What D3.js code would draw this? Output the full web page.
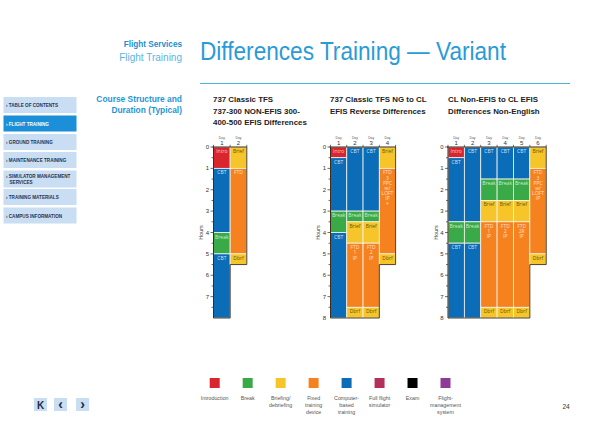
<!DOCTYPE html>
<html><head><meta charset="utf-8">
<script src="https://cdn.jsdelivr.net/npm/d3@7"></script>
<style>
html,body{margin:0;padding:0;background:#fff;}
svg{display:block;font-family:"Liberation Sans",Arial,sans-serif;}
</style></head>
<body>
<svg id="c" width="600" height="432"></svg>
<script>
// ---------- DATA ----------
const navItems = [["TABLE OF CONTENTS"],["FLIGHT TRAINING"],["GROUND TRAINING"],["MAINTENANCE TRAINING"],["SIMULATOR MANAGEMENT","SERVICES"],["TRAINING MATERIALS"],["CAMPUS INFORMATION"]];
const activeNav = "FLIGHT TRAINING";

const chart1Title = ["737 Classic TFS","737-300 NON-EFIS 300-","400-500 EFIS Differences"];
const chart1Days = ["1","2"];
const chart1HourTicks = [0,1,2,3,4,5,6,7];
const chart1Segments = [
  {day:"1",type:"intro",start:0,end:1,label:["Intro"]},
  {day:"1",type:"cbt",start:1,end:4,label:["CBT"]},
  {day:"1",type:"break",start:4,end:5,label:["Break"]},
  {day:"1",type:"cbt",start:5,end:8,label:["CBT"]},
  {day:"2",type:"brief",start:0,end:1,label:["Brief"]},
  {day:"2",type:"ftd",start:1,end:5,label:["FTD"]},
  {day:"2",type:"brief",start:5,end:5.5,label:["Dbrf"]}
];

const chart2Title = ["737 Classic TFS NG to CL","EFIS Reverse Differences"];
const chart2Days = ["1","2","3","4"];
const chart2HourTicks = [0,1,2,3,4,5,6,7,8];
const chart2Segments = [
  {day:"1",type:"intro",start:0,end:0.5,label:["Intro"]},
  {day:"1",type:"cbt",start:0.5,end:3,label:["CBT"]},
  {day:"1",type:"break",start:3,end:4,label:["Break"]},
  {day:"1",type:"cbt",start:4,end:8,label:["CBT"]},
  {day:"2",type:"cbt",start:0,end:3,label:["CBT"]},
  {day:"2",type:"break",start:3,end:3.5,label:["Break"]},
  {day:"2",type:"brief",start:3.5,end:4.5,label:["Brief"]},
  {day:"2",type:"ftd",start:4.5,end:7.5,label:["FTD","1","IP"]},
  {day:"2",type:"brief",start:7.5,end:8,label:["Dbrf"]},
  {day:"3",type:"cbt",start:0,end:3,label:["CBT"]},
  {day:"3",type:"break",start:3,end:3.5,label:["Break"]},
  {day:"3",type:"brief",start:3.5,end:4.5,label:["Brief"]},
  {day:"3",type:"ftd",start:4.5,end:7.5,label:["FTD","2","IP"]},
  {day:"3",type:"brief",start:7.5,end:8,label:["Dbrf"]},
  {day:"4",type:"brief",start:0,end:1,label:["Brief"]},
  {day:"4",type:"ftd",start:1,end:5,label:["FTD","3","PPC","w/","LOFT","IP","*"]},
  {day:"4",type:"brief",start:5,end:5.5,label:["Dbrf"]}
];

const chart3Title = ["CL Non-EFIS to CL EFIS","Differences Non-English"];
const chart3Days = ["1","2","3","4","5","6"];
const chart3HourTicks = [0,1,2,3,4,5,6,7,8];
const chart3Segments = [
  {day:"1",type:"intro",start:0,end:0.5,label:["Intro"]},
  {day:"1",type:"cbt",start:0.5,end:3.5,label:["CBT"]},
  {day:"1",type:"break",start:3.5,end:4.5,label:["Break"]},
  {day:"1",type:"cbt",start:4.5,end:8,label:["CBT"]},
  {day:"2",type:"cbt",start:0,end:3.5,label:["CBT"]},
  {day:"2",type:"break",start:3.5,end:4.5,label:["Break"]},
  {day:"2",type:"cbt",start:4.5,end:8,label:["CBT"]},
  {day:"3",type:"cbt",start:0,end:1.5,label:["CBT"]},
  {day:"3",type:"break",start:1.5,end:2.5,label:["Break"]},
  {day:"3",type:"brief",start:2.5,end:3.5,label:["Brief"]},
  {day:"3",type:"ftd",start:3.5,end:7.5,label:["FTD","1","IP"]},
  {day:"3",type:"brief",start:7.5,end:8,label:["Dbrf"]},
  {day:"4",type:"cbt",start:0,end:1.5,label:["CBT"]},
  {day:"4",type:"break",start:1.5,end:2.5,label:["Break"]},
  {day:"4",type:"brief",start:2.5,end:3.5,label:["Brief"]},
  {day:"4",type:"ftd",start:3.5,end:7.5,label:["FTD","2","IP"]},
  {day:"4",type:"brief",start:7.5,end:8,label:["Dbrf"]},
  {day:"5",type:"cbt",start:0,end:1.5,label:["CBT"]},
  {day:"5",type:"break",start:1.5,end:2.5,label:["Break"]},
  {day:"5",type:"brief",start:2.5,end:3.5,label:["Brief"]},
  {day:"5",type:"ftd",start:3.5,end:7.5,label:["FTD","2R","IP"]},
  {day:"5",type:"brief",start:7.5,end:8,label:["Dbrf"]},
  {day:"6",type:"brief",start:0,end:1,label:["Brief"]},
  {day:"6",type:"ftd",start:1,end:5,label:["FTD","3","PPC","w/","LOFT","IP"]},
  {day:"6",type:"brief",start:5,end:5.5,label:["Dbrf"]}
];

const legendTypes = ["intro","break","brief","ftd","cbt","ffs","exam","fms"];
const legendLabels = [["Introduction"],["Break"],["Briefing/","debriefing"],["Fixed","training","device"],["Computer-","based","training"],["Full flight","simulator"],["Exam"],["Flight-","management","system"]];

// ---------- STYLES ----------
const fillColor = {intro:"#d9262e",break:"#3aaa48",brief:"#f5c52a",ftd:"#f5821f",cbt:"#0b6cb8",ffs:"#b4305b",exam:"#000000",fms:"#8d3b96"};
const textColor = {intro:"#f7c9c4",break:"#cdeccb",brief:"#6a5608",ftd:"#fde0c4",cbt:"#cfe3f6"};

const svg = d3.select("#c");
const blue = "#2a9bd7";

// ---------- HEADER ----------
svg.append("text").attr("x",182).attr("y",47).attr("text-anchor","end")
  .attr("font-size",8.2).attr("font-weight","bold").attr("fill","#1a8fd3").text("Flight Services");
svg.append("text").attr("x",182).attr("y",61).attr("text-anchor","end")
  .attr("font-size",10).attr("fill","#5db4e4").text("Flight Training");
svg.append("text").attr("x",200).attr("y",60)
  .attr("font-size",26).attr("fill",blue).attr("textLength",306).attr("lengthAdjust","spacingAndGlyphs")
  .text("Differences Training \u2014 Variant");
svg.append("rect").attr("x",200).attr("width",370).attr("y",83).attr("height",1)
  .attr("fill","#4fb0e2");

// ---------- NAV ----------
const navTops = [97,115.5,134,152,170.5,189,207.5];
const navH = [16,16,16,16,17,16,16];
navItems.forEach((lines,i)=>{
  const act = lines[0]===activeNav;
  svg.append("rect").attr("x",3.5).attr("y",navTops[i]).attr("width",73).attr("height",navH[i])
    .attr("fill",act?"#1b8fd8":"#c9def2");
  lines.forEach((t,j)=>{
    svg.append("text").attr("x",j===0?6:9.5).attr("y",navTops[i]+(lines.length>1?7:10))
      .attr("dy",j*6.5)
      .attr("font-size",4.6).attr("font-weight","bold").attr("fill",act?"#fff":"#253552")
      .text((j===0?"\u203A ":"")+t);
  });
});

svg.append("text").attr("x",182).attr("y",102).attr("text-anchor","end").attr("font-size",8.4)
  .attr("font-weight","bold").attr("fill","#1e96d6").text("Course Structure and");
svg.append("text").attr("x",182).attr("y",113).attr("text-anchor","end").attr("font-size",8.4)
  .attr("font-weight","bold").attr("fill","#1e96d6").text("Duration (Typical)");

// ---------- CHARTS ----------
const y = d3.scaleLinear().domain([0,8]).range([147,318]);

function drawChart(title, days, segs, hourTicks, x0, x1, titleX){
  const g = svg.append("g");
  title.forEach((t,i)=>{
    g.append("text").attr("x",titleX).attr("y",102+i*11.5).attr("font-size",7.9)
      .attr("font-weight","bold").attr("fill","#222").text(t);
  });
  const x = d3.scaleBand().domain(days).range([x0,x1]).padding(0);
  g.selectAll("rect.seg").data(segs).enter().append("rect")
    .attr("x",d=>x(d.day)).attr("width",x.bandwidth())
    .attr("y",d=>y(d.start)).attr("height",d=>y(d.end)-y(d.start))
    .attr("fill",d=>fillColor[d.type]).attr("stroke","#f4f4ee").attr("stroke-width",0.8);
  segs.forEach(d=>{
    d.label.forEach((t,j)=>{
      g.append("text").attr("x",x(d.day)+x.bandwidth()/2).attr("y",y(d.start)+6+j*5.2)
        .attr("text-anchor","middle").attr("font-size",5)
        .attr("font-family","'Open Sans','Noto Sans',sans-serif")
        .attr("fill",textColor[d.type]).text(t);
    });
  });
  const ends = days.map(dd=>d3.max(segs.filter(s=>s.day===dd),s=>s.end));
  const pts = [[x1,y(0)]];
  for(let i=days.length-1;i>=0;i--){
    const xr = x(days[i])+x.bandwidth(), xl = x(days[i]);
    pts.push([xr,y(ends[i])]); pts.push([xl,y(ends[i])]);
    if(i>0) pts.push([xl,y(ends[i-1])]);
  }
  g.append("path").attr("d",d3.line()(pts))
    .attr("fill","none").attr("stroke","#3b2c1c").attr("stroke-width",0.9);
  g.append("line").attr("x1",x0-1).attr("x2",x1).attr("y1",y(0)).attr("y2",y(0))
    .attr("stroke","#3b2c1c").attr("stroke-width",1);
  const bounds = days.map(dd=>x(dd)).concat([x1]);
  bounds.forEach(b=>{
    g.append("line").attr("x1",b).attr("x2",b).attr("y1",y(0)).attr("y2",y(0)-2.2)
      .attr("stroke","#3b2c1c").attr("stroke-width",0.7);
  });
  days.forEach(dd=>{
    const cx = x(dd)+x.bandwidth()/2;
    g.append("text").attr("x",cx).attr("y",139).attr("text-anchor","middle")
      .attr("font-size",3.4).attr("fill","#555").text("Day");
    g.append("text").attr("x",cx).attr("y",145).attr("text-anchor","middle")
      .attr("font-size",6).attr("fill","#333").text(dd);
  });
  const yEnd = y(ends[0]);
  g.append("line").attr("x1",x0).attr("x2",x0).attr("y1",y(0)).attr("y2",yEnd)
    .attr("stroke","#3b2c1c").attr("stroke-width",1);
  const maxH = ends[0];
  const halfTicks = d3.range(0, maxH+0.01, 0.5).filter(v=>v<maxH);
  halfTicks.forEach(v=>{
    const major = Number.isInteger(v);
    g.append("line").attr("x1",x0).attr("x2",x0-(major?3:2)).attr("y1",y(v)).attr("y2",y(v))
      .attr("stroke","#3b2c1c").attr("stroke-width",0.7);
  });
  hourTicks.forEach(v=>{
    g.append("text").attr("x",x0-4.5).attr("y",y(v)+2).attr("text-anchor","end")
      .attr("font-size",6).attr("fill","#333").text(v);
  });
  g.append("text").attr("transform",`translate(${x0-10.5},${y(4)}) rotate(-90)`)
    .attr("text-anchor","middle").attr("font-size",5.5).attr("fill","#444").text("Hours");
}

drawChart(chart1Title, chart1Days, chart1Segments, chart1HourTicks, 213.5, 246.8, 213);
drawChart(chart2Title, chart2Days, chart2Segments, chart2HourTicks, 330.5, 395.6, 330);
drawChart(chart3Title, chart3Days, chart3Segments, chart3HourTicks, 448, 546.2, 448);

// ---------- LEGEND ----------
const lx = d3.scalePoint().domain(legendTypes).range([214.7,445.5]);
legendTypes.forEach((t,i)=>{
  svg.append("rect").attr("x",lx(t)-5).attr("y",378).attr("width",10).attr("height",10)
    .attr("fill",fillColor[t]);
  legendLabels[i].forEach((l,j)=>{
    svg.append("text").attr("x",lx(t)).attr("y",400+j*7).attr("text-anchor","middle")
      .attr("font-size",5.3).attr("fill","#555").text(l);
  });
});

// ---------- FOOTER NAV ----------
const btns = [["34","K"],["54","\u2039"],["76","\u203A"]];
btns.forEach(b=>{
  svg.append("rect").attr("x",+b[0]).attr("y",398).attr("width",13).attr("height",13).attr("fill","#c9def2");
  svg.append("text").attr("x",+b[0]+6.5).attr("y",409).attr("text-anchor","middle")
    .attr("font-size",b[1]==="K"?10:14).attr("font-weight","bold").attr("fill","#1d2b45").text(b[1]);
});
svg.append("text").attr("x",566).attr("y",409).attr("text-anchor","middle").attr("font-size",6.5)
  .attr("fill","#333").text("24");
</script>
</body></html>
